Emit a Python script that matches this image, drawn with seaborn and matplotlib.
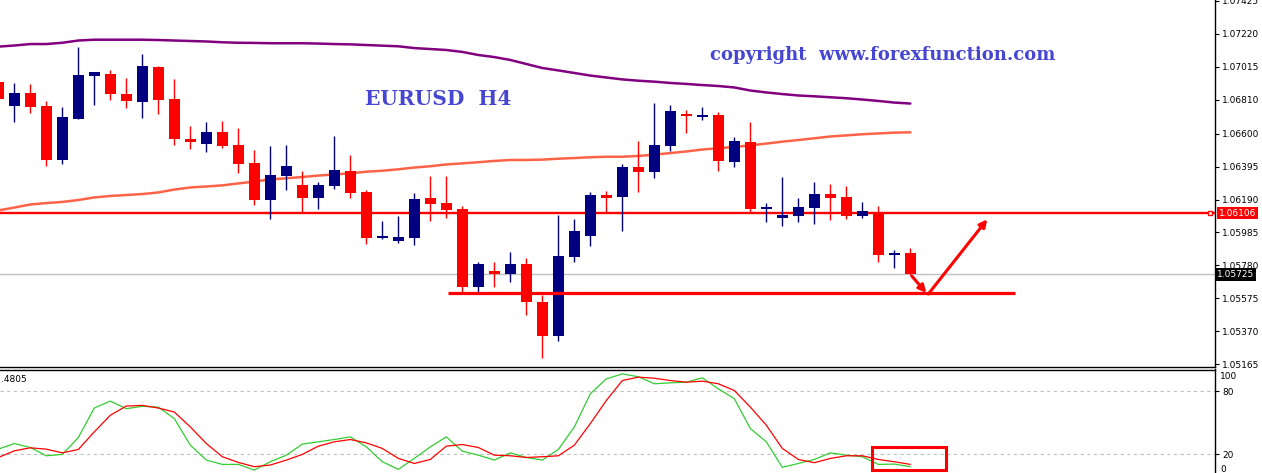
import numpy as np
import pandas as pd
import matplotlib
matplotlib.use("Agg")
import matplotlib.pyplot as plt
import matplotlib.transforms as mtransforms
from matplotlib.patches import Rectangle
import seaborn as sns

# ---------------- data ----------------
opens = [1.06921, 1.06774, 1.06853, 1.06772, 1.06438, 1.06693, 1.06960, 1.06971, 1.06846, 1.06798,
         1.07014, 1.06815, 1.06566, 1.06537, 1.06610, 1.06529, 1.06417, 1.06189, 1.06338, 1.06280,
         1.06201, 1.06276, 1.06367, 1.06239, 1.05953, 1.05934, 1.05953, 1.06199, 1.06168, 1.06131,
         1.05648, 1.05745, 1.05729, 1.05789, 1.05554, 1.05343, 1.05834, 1.05965, 1.06218, 1.06208,
         1.06392, 1.06363, 1.06525, 1.06718, 1.06705, 1.06716, 1.06425, 1.06548, 1.06133, 1.06077,
         1.06089, 1.06139, 1.06224, 1.06206, 1.06089, 1.06108, 1.05847, 1.05857]
highs = [1.06933, 1.06915, 1.06909, 1.06803, 1.06765, 1.07139, 1.06983, 1.06996, 1.06946, 1.07095,
         1.07020, 1.06940, 1.06647, 1.06672, 1.06678, 1.06635, 1.06498, 1.06523, 1.06529, 1.06367,
         1.06299, 1.06585, 1.06467, 1.06249, 1.06056, 1.06087, 1.06230, 1.06336, 1.06336, 1.06150,
         1.05801, 1.05801, 1.05864, 1.05826, 1.05598, 1.06094, 1.06069, 1.06237, 1.06243, 1.06411,
         1.06554, 1.06790, 1.06778, 1.06747, 1.06765, 1.06734, 1.06579, 1.06672, 1.06170, 1.06330,
         1.06199, 1.06299, 1.06286, 1.06274, 1.06175, 1.06150, 1.05878, 1.05890]
lows = [1.06803, 1.06674, 1.06730, 1.06400, 1.06413, 1.06690, 1.06780, 1.06811, 1.06761, 1.06699,
        1.06724, 1.06531, 1.06506, 1.06487, 1.06512, 1.06357, 1.06158, 1.06071, 1.06251, 1.06114,
        1.06133, 1.06257, 1.06201, 1.05915, 1.05946, 1.05921, 1.05909, 1.06058, 1.06077, 1.05610,
        1.05617, 1.05648, 1.05679, 1.05474, 1.05206, 1.05312, 1.05803, 1.05903, 1.06112, 1.05996,
        1.06239, 1.06326, 1.06494, 1.06606, 1.06686, 1.06369, 1.06394, 1.06108, 1.06052, 1.06027,
        1.06052, 1.06040, 1.06064, 1.06071, 1.06077, 1.05803, 1.05766, 1.05720]
closes = [1.06817, 1.06853, 1.06767, 1.06438, 1.06703, 1.06965, 1.06983, 1.06848, 1.06805, 1.07020,
          1.06811, 1.06568, 1.06550, 1.06610, 1.06525, 1.06413, 1.06189, 1.06343, 1.06399, 1.06201,
          1.06280, 1.06374, 1.06232, 1.05953, 1.05965, 1.05959, 1.06193, 1.06164, 1.06127, 1.05648,
          1.05789, 1.05729, 1.05789, 1.05554, 1.05343, 1.05839, 1.05994, 1.06218, 1.06201, 1.06392,
          1.06363, 1.06529, 1.06741, 1.06711, 1.06716, 1.06431, 1.06554, 1.06133, 1.06145, 1.06096,
          1.06143, 1.06224, 1.06201, 1.06089, 1.06119, 1.05847, 1.05853, 1.05725]
ma_slow = [1.07141, 1.07148, 1.07157, 1.07157, 1.07165, 1.07179, 1.07184, 1.07184, 1.07184, 1.07184,
           1.07182, 1.07179, 1.07176, 1.07173, 1.07168, 1.07165, 1.07164, 1.07162, 1.07162, 1.07162,
           1.07160, 1.07157, 1.07155, 1.07151, 1.07147, 1.07143, 1.07132, 1.07126, 1.07120, 1.07108,
           1.07089, 1.07076, 1.07058, 1.07033, 1.07008, 1.06993, 1.06977, 1.06961, 1.06949, 1.06937,
           1.06929, 1.06923, 1.06915, 1.06909, 1.06902, 1.06896, 1.06887, 1.06868, 1.06856, 1.06846,
           1.06837, 1.06832, 1.06826, 1.06820, 1.06812, 1.06803, 1.06793, 1.06787]
ma_fast = [1.06122, 1.06140, 1.06159, 1.06168, 1.06175, 1.06187, 1.06203, 1.06212, 1.06218, 1.06224,
           1.06234, 1.06252, 1.06265, 1.06271, 1.06278, 1.06290, 1.06302, 1.06315, 1.06322, 1.06330,
           1.06339, 1.06346, 1.06353, 1.06363, 1.06369, 1.06378, 1.06389, 1.06397, 1.06408, 1.06415,
           1.06422, 1.06430, 1.06436, 1.06436, 1.06438, 1.06444, 1.06448, 1.06453, 1.06456, 1.06456,
           1.06461, 1.06469, 1.06479, 1.06489, 1.06501, 1.06509, 1.06517, 1.06527, 1.06538, 1.06550,
           1.06560, 1.06571, 1.06582, 1.06589, 1.06596, 1.06601, 1.06606, 1.06608]
stoch_k = [25.0, 30.4, 26.6, 18.7, 20.0, 36.1, 64.2, 70.8, 63.6, 65.8,
           65.1, 54.1, 28.8, 14.6, 10.5, 10.5, 5.1, 13.0, 19.3, 29.8,
           32.0, 34.2, 36.7, 27.2, 13.0, 5.8, 16.2, 27.2, 36.7, 23.1,
           19.3, 14.6, 21.5, 17.1, 14.6, 24.7, 46.2, 77.8, 92.0, 96.7,
           94.0, 87.3, 88.2, 88.8, 93.0, 82.5, 73.1, 44.6, 32.0, 7.7,
           11.4, 15.2, 21.5, 19.3, 17.8, 10.5, 10.8, 8.3]
stoch_d = [17.1, 23.4, 26.3, 25.0, 21.5, 24.7, 41.5, 57.3, 66.1, 66.7,
           64.2, 60.4, 46.2, 30.4, 17.8, 12.4, 8.3, 9.9, 14.6, 20.0,
           27.9, 32.0, 34.2, 31.0, 25.7, 16.2, 11.4, 15.2, 27.9, 29.4,
           26.6, 19.3, 18.7, 17.1, 17.8, 18.7, 28.8, 49.4, 71.4, 90.4,
           93.6, 92.6, 90.4, 88.8, 89.8, 87.3, 80.9, 65.1, 47.8, 25.7,
           15.2, 12.1, 16.2, 18.7, 18.7, 15.2, 13.0, 10.5]
price_ticks = [1.07425, 1.07220, 1.07015, 1.06810, 1.06600, 1.06395, 1.06190,
               1.05985, 1.05780, 1.05575, 1.05370, 1.05165]
resistance = 1.06106
last_price = 1.05725
support = 1.05609
stoch_levels = [80, 20]
title_text = "EURUSD  H4"
copyright_text = "copyright  www.forexfunction.com"
stoch_label = ".4805"

# ---------------- figure ----------------
sns.set_theme(style="white")
plt.rcParams['font.family'] = ['DejaVu Sans']

W, H = 1262, 473
fig = plt.figure(figsize=(W / 100, H / 100), dpi=100)
fig.patch.set_facecolor("white")
ax = fig.add_axes([0, 1 - 367 / H, 1215 / W, 367 / H])
ax2 = fig.add_axes([0, 0, 1215 / W, 1 - 369.5 / H])

idx = np.arange(len(opens))
df = pd.DataFrame(dict(i=idx, o=opens, h=highs, l=lows, c=closes,
                       slow=ma_slow, fast=ma_fast, k=stoch_k, d=stoch_d))
bull = df.c >= df.o
colors = np.where(bull, "#000080", "#ff0000")

XL = (0.106, 76.04)

# moving averages
sns.lineplot(data=df, x="i", y="slow", ax=ax, color="#800080", lw=1.8, legend=False)
sns.lineplot(data=df, x="i", y="fast", ax=ax, color="#ff6347", lw=1.8, legend=False)

# horizontal lines
ax.axhline(last_price, color="#c0c0c0", lw=1.0, zorder=1)
ax.axhline(resistance, color="#ff0000", lw=1.7, zorder=2)
ax.plot([75.73], [resistance], marker="s", ms=3.2, mfc="white", mec="red", mew=1.0,
        clip_on=False, zorder=6)

# candles
ax.vlines(df.i, df.l, df.h, colors=colors, lw=1.0, zorder=3)
body_lo = np.minimum(df.o, df.c)
body_h = np.maximum(np.abs(df.c - df.o), 0.00008)
ax.bar(df.i, body_h, bottom=body_lo, width=0.69, color=colors, lw=0, zorder=4)

# support line and arrows
ax.plot([28.09, 63.54], [support, support], color="#ff0000", lw=2.3, solid_capstyle="butt", zorder=5)
arrow_kw = dict(arrowstyle="-|>", color="#ff0000", lw=2.2, mutation_scale=11, shrinkA=0, shrinkB=0)
ax.annotate("", xy=(58.0, 1.05609), xytext=(57.09, 1.05714), arrowprops=arrow_kw, zorder=6)
ax.annotate("", xy=(61.81, 1.06067), xytext=(58.12, 1.05602), arrowprops=arrow_kw, zorder=6)

ax.set_xlim(*XL)
ax.set_ylim(1.07431 - 0.0000622 * 367, 1.07431)
ax.set_xticks([])
ax.yaxis.tick_right()
ax.set_yticks(price_ticks)
ax.set_yticklabels([f"{t:.5f}" for t in price_ticks])
ax.tick_params(axis="y", direction="out", length=3, width=0.8, pad=2, labelsize=6.5,
               colors="black", right=True, left=False)
ax.set_xlabel("")
ax.set_ylabel("")
for s in ["left", "top"]:
    ax.spines[s].set_visible(False)
for s in ["right", "bottom"]:
    ax.spines[s].set_color("black")
    ax.spines[s].set_linewidth(1.0)

trans = mtransforms.blended_transform_factory(ax.transAxes, ax.transData)
ax.text(1.0 + 4 / 1215, resistance, f"{resistance:.5f}", transform=trans, color="white",
        fontsize=6.5, va="center", ha="left",
        bbox=dict(boxstyle="square,pad=0.2", fc="#ff0000", ec="none"))
ax.text(1.0 + 2 / 1215, last_price, f"{last_price:.5f}", transform=trans, color="white",
        fontsize=6.5, va="center", ha="left",
        bbox=dict(boxstyle="square,pad=0.2", fc="black", ec="none"))

# annotations text
fig.text(365 / W, 1 - 99 / H, title_text, color="#4646d2", fontsize=14.5, fontweight="bold",
         family=["DejaVu Serif"], va="center", ha="left")
fig.text(710 / W, 1 - 55 / H, copyright_text, color="#4646d2", fontsize=13, fontweight="bold",
         family=["DejaVu Serif"], va="center", ha="left")

# ---------------- stochastic panel ----------------
sns.lineplot(data=df, x="i", y="k", ax=ax2, color="#32cd32", lw=0.9, legend=False)
sns.lineplot(data=df, x="i", y="d", ax=ax2, color="#ff0000", lw=0.9, legend=False)
for lv in stoch_levels:
    ax2.axhline(lv, color="#c0c0c0", lw=0.8, ls=(0, (3, 3)), zorder=0)
ax2.add_patch(Rectangle((54.6, 5.1), 4.6, 22.1, fill=False, ec="#ff0000", lw=2.2, zorder=5))

ax2.set_xlim(*XL)
ax2.set_ylim(2.3, 100.9)
ax2.set_xticks([])
ax2.yaxis.tick_right()
ax2.set_yticks(stoch_levels)
ax2.set_yticklabels([str(v) for v in stoch_levels])
ax2.tick_params(axis="y", direction="out", length=3, width=0.8, pad=2, labelsize=6.5,
                colors="black", right=True, left=False)
ax2.set_xlabel("")
ax2.set_ylabel("")
for s in ["left", "bottom"]:
    ax2.spines[s].set_visible(False)
for s in ["right", "top"]:
    ax2.spines[s].set_color("black")
    ax2.spines[s].set_linewidth(1.0)
fig.text(1220 / W, 1 - 376 / H, "100", fontsize=6.5, va="center", ha="left", color="black")
fig.text(1220 / W, 1 - 469 / H, "0", fontsize=6.5, va="center", ha="left", color="black")
fig.text(1 / W, 1 - 379 / H, stoch_label, fontsize=6.5, va="center", ha="left", color="black")

fig.savefig("out.png", dpi=100, facecolor="white")
